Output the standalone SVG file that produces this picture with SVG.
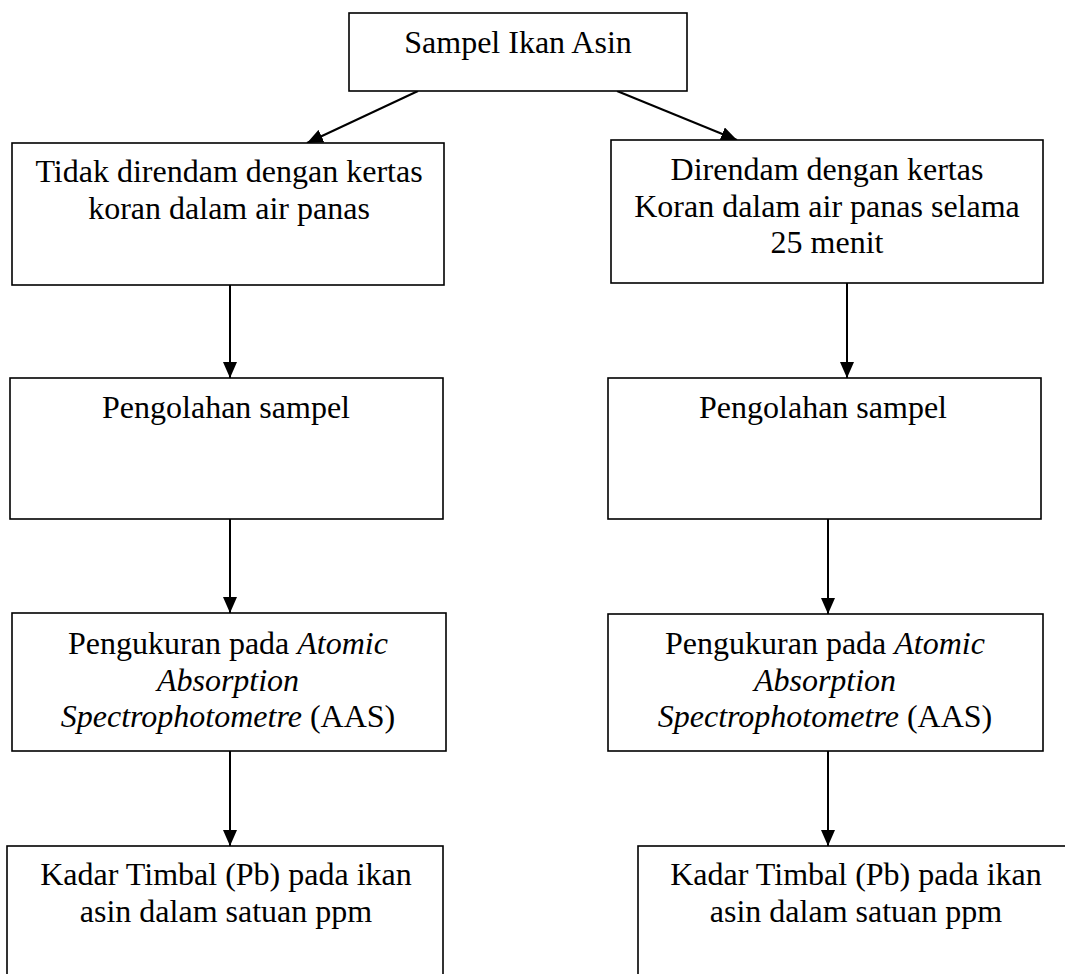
<svg xmlns="http://www.w3.org/2000/svg" width="1065" height="974" viewBox="0 0 1065 974">
<style>
.box{fill:#fff;stroke:#000;stroke-width:1.6}
.t{font-family:"Liberation Serif","Times New Roman",serif;font-size:32px;fill:#000;text-anchor:middle}
.it{font-style:italic}
.c{stroke:#000;stroke-width:2;fill:none}
</style>
<defs>
<marker id="ah" viewBox="0 0 16 14" refX="16" refY="7" markerWidth="16" markerHeight="14" markerUnits="userSpaceOnUse" orient="auto">
<path d="M0,0 L16,7 L0,14 z" fill="#000"/>
</marker>
</defs>
<rect width="1065" height="974" fill="#fff"/>
<g id="connectors">
<line class="c" x1="418" y1="91" x2="307" y2="143" marker-end="url(#ah)"/>
<line class="c" x1="617" y1="91" x2="737" y2="140" marker-end="url(#ah)"/>
<line class="c" x1="230" y1="285" x2="230" y2="378" marker-end="url(#ah)"/>
<line class="c" x1="230" y1="519" x2="230" y2="613" marker-end="url(#ah)"/>
<line class="c" x1="230" y1="751" x2="230" y2="846" marker-end="url(#ah)"/>
<line class="c" x1="847" y1="283" x2="847" y2="378" marker-end="url(#ah)"/>
<line class="c" x1="828" y1="519" x2="828" y2="614" marker-end="url(#ah)"/>
<line class="c" x1="828" y1="751" x2="828" y2="846" marker-end="url(#ah)"/>
</g>
<g id="n_top">
<rect class="box" x="349" y="13" width="338" height="78"/>
<text class="t" x="518" y="53">Sampel Ikan Asin</text>
</g>
<g id="n_left1">
<rect class="box" x="12" y="143" width="432" height="142"/>
<text class="t" x="229" y="182">Tidak direndam dengan kertas</text>
<text class="t" x="229" y="219">koran dalam air panas</text>
</g>
<g id="n_right1">
<rect class="box" x="611" y="140" width="432" height="143"/>
<text class="t" x="827" y="180">Direndam dengan kertas</text>
<text class="t" x="827" y="217">Koran dalam air panas selama</text>
<text class="t" x="827" y="253">25 menit</text>
</g>
<g id="n_left2">
<rect class="box" x="10" y="378" width="433" height="141"/>
<text class="t" x="226" y="418">Pengolahan sampel</text>
</g>
<g id="n_right2">
<rect class="box" x="608" y="378" width="433" height="141"/>
<text class="t" x="823" y="418">Pengolahan sampel</text>
</g>
<g id="n_left3">
<rect class="box" x="12" y="613" width="434" height="138"/>
<text class="t" x="228" y="654">Pengukuran pada <tspan class="it">Atomic</tspan></text>
<text class="t it" x="228" y="691">Absorption</text>
<text class="t" x="228" y="727"><tspan class="it">Spectrophotometre</tspan> (AAS)</text>
</g>
<g id="n_right3">
<rect class="box" x="608" y="614" width="435" height="137"/>
<text class="t" x="825" y="654">Pengukuran pada <tspan class="it">Atomic</tspan></text>
<text class="t it" x="825" y="691">Absorption</text>
<text class="t" x="825" y="727"><tspan class="it">Spectrophotometre</tspan> (AAS)</text>
</g>
<g id="n_left4">
<rect class="box" x="7" y="846" width="436" height="160"/>
<text class="t" x="226" y="885">Kadar Timbal (Pb) pada ikan</text>
<text class="t" x="226" y="922">asin dalam satuan ppm</text>
</g>
<g id="n_right4">
<rect class="box" x="638" y="846" width="460" height="160"/>
<text class="t" x="856" y="885">Kadar Timbal (Pb) pada ikan</text>
<text class="t" x="856" y="922">asin dalam satuan ppm</text>
</g>
</svg>
